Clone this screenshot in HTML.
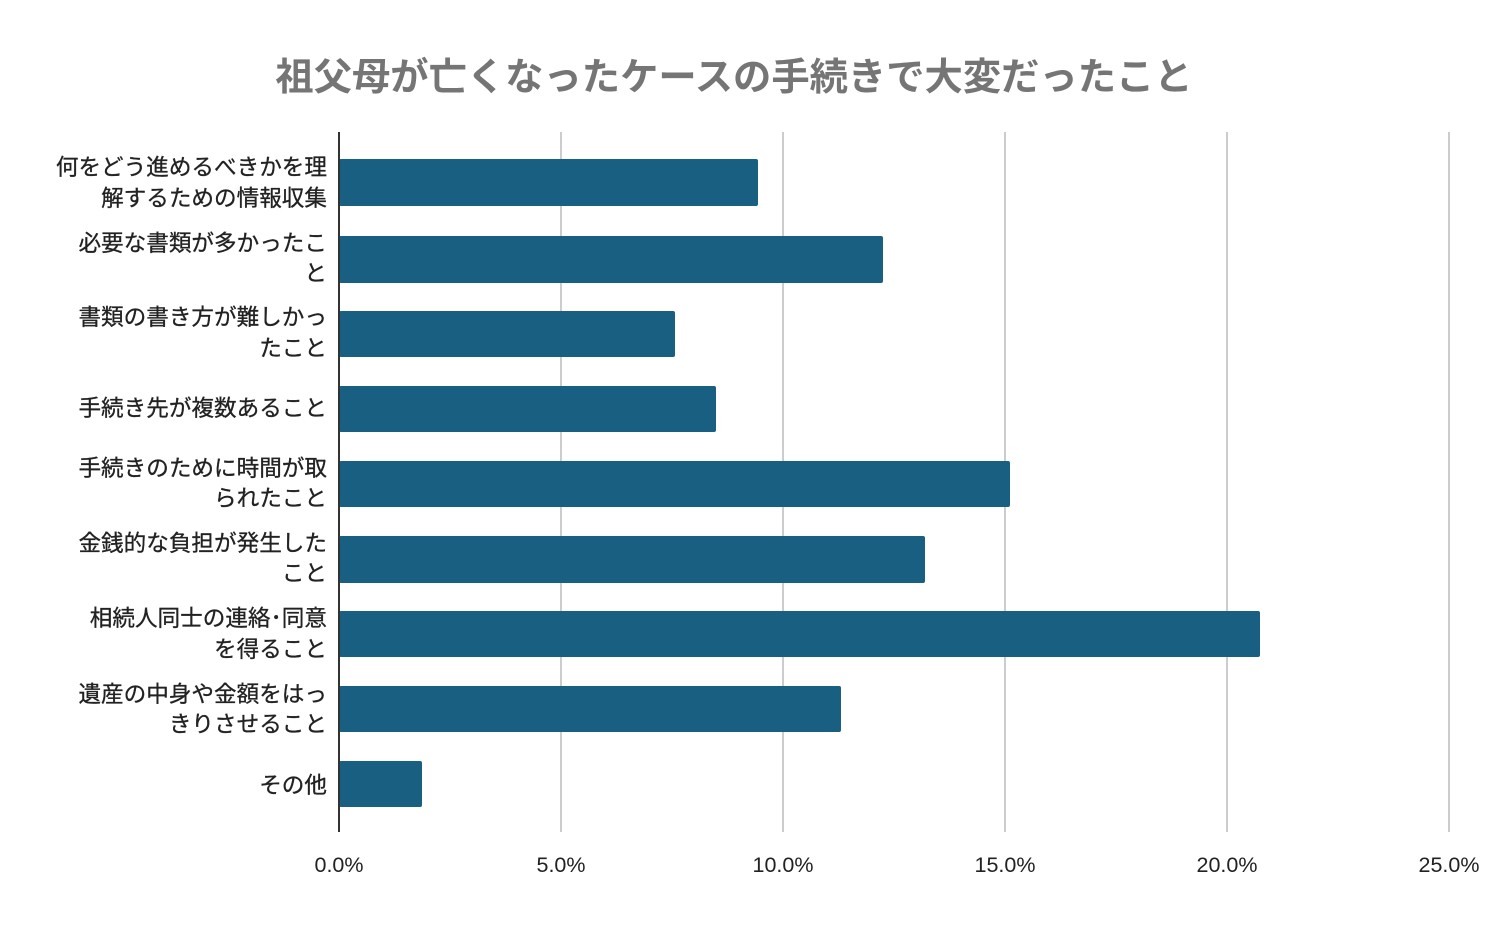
<!DOCTYPE html>
<html><head><meta charset="utf-8"><style>
body{margin:0;background:#fff;width:1496px;height:925px;overflow:hidden;font-family:"Liberation Sans","Noto Sans CJK JP",sans-serif}
</style></head><body>
<svg width="1496" height="925" xmlns="http://www.w3.org/2000/svg" font-family="'Liberation Sans','Noto Sans CJK JP',sans-serif">
<text x="734" y="90" text-anchor="middle" font-size="38.3" font-weight="bold" fill="#757575">祖父母が亡くなったケースの手続きで大変だったこと</text>
<g stroke="#cccccc" stroke-width="2">
<line x1="561" y1="132" x2="561" y2="832"/><line x1="783" y1="132" x2="783" y2="832"/><line x1="1005" y1="132" x2="1005" y2="832"/><line x1="1227" y1="132" x2="1227" y2="832"/><line x1="1449" y1="132" x2="1449" y2="832"/>
</g>
<g fill="#185f81">
<rect x="339" y="159" width="419" height="47" rx="2"/>
<rect x="339" y="236" width="544" height="47" rx="2"/>
<rect x="339" y="311" width="336" height="46" rx="2"/>
<rect x="339" y="386" width="377" height="46" rx="2"/>
<rect x="339" y="461" width="671" height="46" rx="2"/>
<rect x="339" y="536" width="586" height="47" rx="2"/>
<rect x="339" y="611" width="921" height="46" rx="2"/>
<rect x="339" y="686" width="502" height="46" rx="2"/>
<rect x="339" y="761" width="83" height="46" rx="2"/>
</g>
<line x1="339" y1="132" x2="339" y2="832" stroke="#333" stroke-width="2"/>
<g font-size="22.6" fill="#222" text-anchor="end" stroke="#222" stroke-width="0.3">
<text x="327" y="175">何をどう進めるべきかを理</text><text x="327" y="206">解するための情報収集</text>
<text x="327" y="251">必要な書類が多かったこ</text><text x="327" y="281">と</text>
<text x="327" y="325">書類の書き方が難しかっ</text><text x="327" y="356">たこと</text>
<text x="327" y="416">手続き先が複数あること</text>
<text x="327" y="476">手続きのために時間が取</text><text x="327" y="506">られたこと</text>
<text x="327" y="551">金銭的な負担が発生した</text><text x="327" y="581">こと</text>
<text x="327" y="626">相続人同士の連絡･同意</text><text x="327" y="657">を得ること</text>
<text x="327" y="702">遺産の中身や金額をはっ</text><text x="327" y="732">きりさせること</text>
<text x="327" y="793">その他</text>
</g>
<g font-size="21.5" fill="#222" text-anchor="middle">
<text x="339" y="872">0.0%</text><text x="561" y="872">5.0%</text><text x="783" y="872">10.0%</text><text x="1005" y="872">15.0%</text><text x="1227" y="872">20.0%</text><text x="1449" y="872">25.0%</text>
</g>
</svg>
</body></html>
